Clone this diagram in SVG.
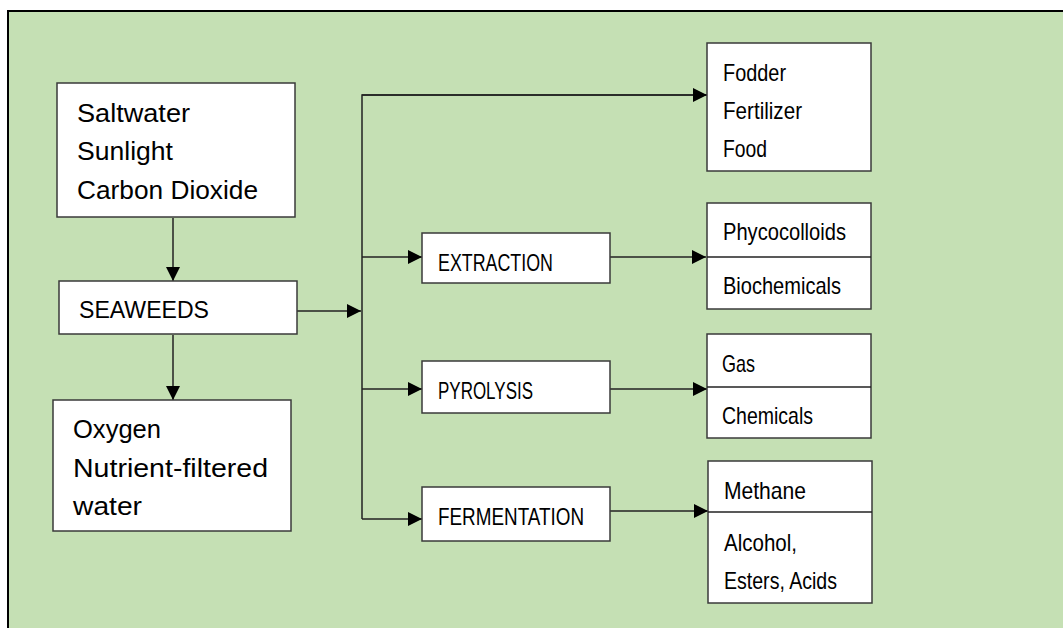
<svg xmlns="http://www.w3.org/2000/svg" width="1063" height="628" viewBox="0 0 1063 628">
<style>
.bg{fill:#C5E0B4;stroke:#000;stroke-width:2}
.box{fill:#fff;stroke:#3a3a3a;stroke-width:1.5}
.div{stroke:#222;stroke-width:1.5}
.ln{fill:none;stroke:#222;stroke-width:1.5}
text{font-family:"Liberation Sans",Arial,sans-serif;font-size:24px;fill:#000}
.big{font-size:26px}
.mid{font-size:23px}
</style>
<defs>
<marker id="ah" viewBox="0 0 14 14" refX="14" refY="7" markerWidth="14" markerHeight="14" markerUnits="userSpaceOnUse" orient="auto">
<path d="M0,0 L14,7 L0,14 Z" fill="#000"/>
</marker>
</defs>
<rect class="bg" x="8" y="11" width="1070" height="630"/>
<g id="connectors">
<line class="ln" x1="173" y1="218" x2="173" y2="281" marker-end="url(#ah)"/>
<line class="ln" x1="173" y1="335" x2="173" y2="400" marker-end="url(#ah)"/>
<line class="ln" x1="297" y1="311" x2="361" y2="311" marker-end="url(#ah)"/>
<polyline class="ln" points="708,95 362,95 362,519"/>
<line class="ln" x1="362" y1="95" x2="707" y2="95" marker-end="url(#ah)"/>
<line class="ln" x1="362" y1="257" x2="422" y2="257" marker-end="url(#ah)"/>
<line class="ln" x1="362" y1="389" x2="422" y2="389" marker-end="url(#ah)"/>
<line class="ln" x1="362" y1="519" x2="422" y2="519" marker-end="url(#ah)"/>
<line class="ln" x1="610" y1="257" x2="706" y2="257" marker-end="url(#ah)"/>
<line class="ln" x1="610" y1="389" x2="707" y2="389" marker-end="url(#ah)"/>
<line class="ln" x1="610" y1="511" x2="708" y2="511" marker-end="url(#ah)"/>
</g>
<g id="inputs">
<rect class="box" x="57" y="83" width="238" height="134"/>
<text class="big" x="77" y="122" textLength="113" lengthAdjust="spacingAndGlyphs">Saltwater</text>
<text class="big" x="77" y="160" textLength="96" lengthAdjust="spacingAndGlyphs">Sunlight</text>
<text class="big" x="77" y="199" textLength="181" lengthAdjust="spacingAndGlyphs">Carbon Dioxide</text>
</g>
<g id="seaweeds">
<rect class="box" x="59" y="281" width="238" height="53"/>
<text class="mid" x="79" y="318" textLength="130" lengthAdjust="spacingAndGlyphs">SEAWEEDS</text>
</g>
<g id="outputs">
<rect class="box" x="53" y="400" width="238" height="131"/>
<text class="big" x="73" y="438" textLength="88" lengthAdjust="spacingAndGlyphs">Oxygen</text>
<text class="big" x="73" y="477" textLength="195" lengthAdjust="spacingAndGlyphs">Nutrient-filtered</text>
<text class="big" x="73" y="515" textLength="69" lengthAdjust="spacingAndGlyphs">water</text>
</g>
<g id="direct">
<rect class="box" x="707" y="43" width="164" height="128"/>
<text x="723" y="81" textLength="63" lengthAdjust="spacingAndGlyphs">Fodder</text>
<text x="723" y="119" textLength="79" lengthAdjust="spacingAndGlyphs">Fertilizer</text>
<text x="723" y="157" textLength="44" lengthAdjust="spacingAndGlyphs">Food</text>
</g>
<g id="extraction">
<rect class="box" x="422" y="233" width="188" height="50"/>
<text x="438" y="271" textLength="115" lengthAdjust="spacingAndGlyphs">EXTRACTION</text>
</g>
<g id="extraction-products">
<rect class="box" x="707" y="203" width="164" height="106"/>
<line class="div" x1="707" y1="257" x2="871" y2="257"/>
<text x="723" y="240" textLength="123" lengthAdjust="spacingAndGlyphs">Phycocolloids</text>
<text x="723" y="294" textLength="118" lengthAdjust="spacingAndGlyphs">Biochemicals</text>
</g>
<g id="pyrolysis">
<rect class="box" x="422" y="361" width="188" height="52"/>
<text x="438" y="399" textLength="95" lengthAdjust="spacingAndGlyphs">PYROLYSIS</text>
</g>
<g id="pyrolysis-products">
<rect class="box" x="707" y="334" width="164" height="104"/>
<line class="div" x1="707" y1="387" x2="871" y2="387"/>
<text x="722" y="372" textLength="33" lengthAdjust="spacingAndGlyphs">Gas</text>
<text x="722" y="424" textLength="91" lengthAdjust="spacingAndGlyphs">Chemicals</text>
</g>
<g id="fermentation">
<rect class="box" x="422" y="487" width="188" height="54"/>
<text x="438" y="525" textLength="146" lengthAdjust="spacingAndGlyphs">FERMENTATION</text>
</g>
<g id="fermentation-products">
<rect class="box" x="708" y="461" width="164" height="142"/>
<line class="div" x1="708" y1="512" x2="872" y2="512"/>
<text x="724" y="499" textLength="82" lengthAdjust="spacingAndGlyphs">Methane</text>
<text x="724" y="551" textLength="73" lengthAdjust="spacingAndGlyphs">Alcohol,</text>
<text x="724" y="589" textLength="113" lengthAdjust="spacingAndGlyphs">Esters, Acids</text>
</g>
</svg>
